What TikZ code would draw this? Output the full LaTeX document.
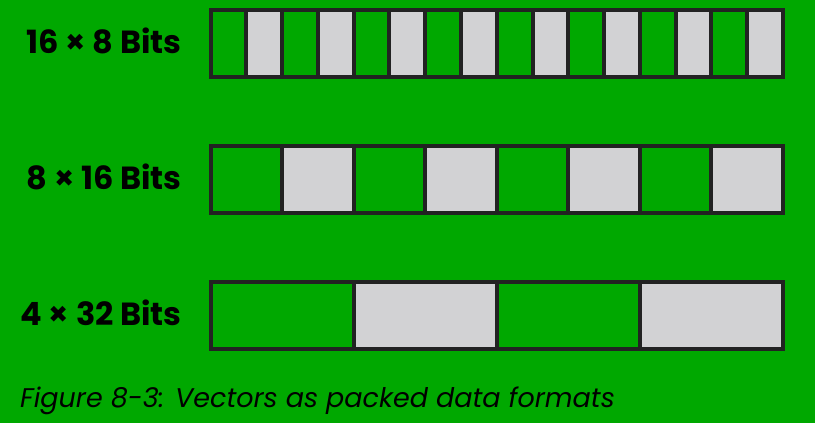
\documentclass[tikz,border=0pt]{standalone}
\usepackage{fontspec}
\setmainfont{Poppins}
\usetikzlibrary{positioning}
\definecolor{bggreen}{RGB}{0,168,0}
\definecolor{cellgray}{RGB}{210,210,212}
\definecolor{cellline}{RGB}{34,34,34}
\tikzset{
  every node/.style={inner sep=0pt, text=black},
  lanelabel/.style={font=\fontsize{32}{32}\selectfont\bfseries, anchor=base east},
  caption/.style={font=\fontsize{27}{27}\selectfont\itshape, anchor=base west},
  cellgreen/.style={fill=bggreen},
  cellgrey/.style={fill=cellgray},
  cellbox/.style={draw=cellline, line width=4pt},
}

\begin{document}
\begin{tikzpicture}[x=1pt, y=-1pt]
    % Background and page size
    \fill[bggreen] (0,0) rectangle (815,423);
    \useasboundingbox (0,0) rectangle (815,423);

    % Packed vectors: lanes, centre line, label
    \foreach \lanes/\yc/\txt in {16/43.5/{16 × 8 Bits}, 8/179.5/{8 × 16 Bits}, 4/315.5/{4 × 32 Bits}}{
      \pgfmathsetmacro\cw{(783-210.5)/\lanes}
      \foreach \i in {1,...,\lanes}{
        \pgfmathsetmacro\xa{210.5+(\i-1)*\cw}
        \pgfmathtruncatemacro\odd{mod(\i,2)}
        \ifnum\odd=1
          \fill[cellgreen] (\xa,\yc-33.5) rectangle ++(\cw,67);
        \else
          \fill[cellgrey] (\xa,\yc-33.5) rectangle ++(\cw,67);
        \fi
        \draw[cellbox] (\xa,\yc-33.5) rectangle ++(\cw,67);
      }
      \node[lanelabel] (lbl\lanes) at (182,\yc+9.5) {\txt};
    }

    % Caption
    \node[caption] (cap) at (20,407) {Figure 8-3: Vectors as packed data formats};
\end{tikzpicture}
\end{document}
